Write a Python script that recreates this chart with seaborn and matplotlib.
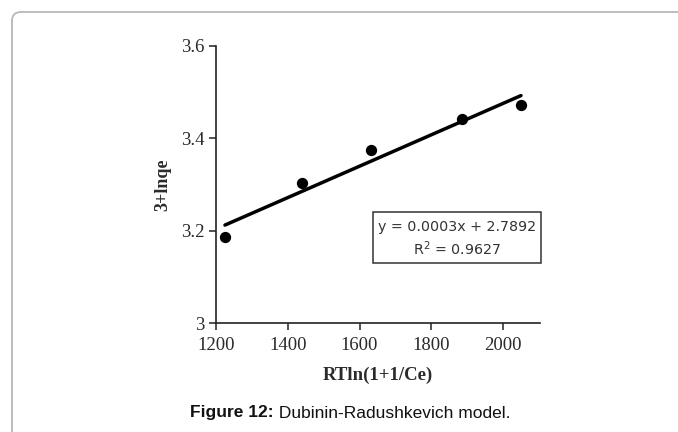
import numpy as np
import pandas as pd
import matplotlib
matplotlib.use("Agg")
import matplotlib.pyplot as plt
from matplotlib.patches import FancyBboxPatch, Rectangle
import seaborn as sns

# ---- data ----
x_vals = [1225, 1440, 1633, 1887, 2050]
y_vals = [3.186, 3.303, 3.375, 3.441, 3.473]
x_ticks = [1200, 1400, 1600, 1800, 2000]
y_ticks = [3.0, 3.2, 3.4, 3.6]
y_tick_labels = ["3", "3.2", "3.4", "3.6"]
eq_text = "y = 0.0003x + 2.7892"
r2_text = "R$^2$ = 0.9627"
x_label = "RTln(1+1/Ce)"
y_label = "3+lnqe"
caption_bold = "Figure 12:"
caption_rest = " Dubinin-Radushkevich model."

df = pd.DataFrame({"x": x_vals, "y": y_vals})

sns.set_style("ticks")
plt.rcParams["font.family"] = ["DejaVu Sans"]

W, H = 678, 432
fig = plt.figure(figsize=(W / 100, H / 100), dpi=100)
fig.patch.set_facecolor("white")

# outer frame (rounded, open at right/bottom)
frame = FancyBboxPatch((12, -30), 720, 450, boxstyle="round,pad=0,rounding_size=9",
                       transform=None, fill=False, edgecolor="#b8b8b8", linewidth=1.3,
                       clip_on=False)
fig.patches.append(frame)

ax = fig.add_axes([216 / W, 1 - 323 / H, 324 / W, (323 - 46) / H])
ax.set_facecolor("white")

sns.regplot(data=df, x="x", y="y", ax=ax, ci=None, truncate=True,
            scatter_kws=dict(s=66, color="black", edgecolor="black", linewidths=0,
                             alpha=1, zorder=3),
            line_kws=dict(color="black", linewidth=2.5, zorder=2))

ax.set_xlim(1200, 2103)
ax.set_ylim(3.0, 3.6)
ax.set_xticks(x_ticks)
ax.set_yticks(y_ticks)
ax.set_yticklabels(y_tick_labels)

tick_color = "#2a2a2a"
for lab in ax.get_xticklabels() + ax.get_yticklabels():
    lab.set_fontfamily("Liberation Serif")
    lab.set_fontsize(13.5)
    lab.set_color(tick_color)
ax.tick_params(axis="both", direction="out", length=5, width=1.1, color="#222222")
ax.tick_params(axis="x", pad=5)
ax.tick_params(axis="y", pad=3)

for side in ["top", "right"]:
    ax.spines[side].set_visible(False)
for side in ["left", "bottom"]:
    ax.spines[side].set_color("#222222")
    ax.spines[side].set_linewidth(1.2)

ax.set_xlabel(x_label, fontfamily="Liberation Serif", fontweight="bold", fontsize=13.5, color=tick_color)
ax.set_ylabel(y_label, fontfamily="Liberation Serif", fontweight="bold", fontsize=13, color=tick_color)
ax.xaxis.set_label_coords((378 - 216) / 324, (323 - 367) / 277)
ax.yaxis.set_label_coords((171 - 216) / 324, 0.5)

# equation box
bx0, bx1 = (373 - 216) / 324, (540.5 - 216) / 324
by0, by1 = (323 - 263) / 277, (323 - 212) / 277
ax.add_patch(Rectangle((bx0, by0), bx1 - bx0, by1 - by0, transform=ax.transAxes,
                       fill=True, facecolor="white", edgecolor="#333333", linewidth=1.1,
                       clip_on=False, zorder=4))
cx = (bx0 + bx1) / 2
ax.text(cx, (323 - 226.7) / 277, eq_text, transform=ax.transAxes, ha="center", va="center",
        fontsize=10.3, color="#333333", fontfamily="DejaVu Sans", zorder=5)
ax.text(cx, (323 - 248.5) / 277, r2_text, transform=ax.transAxes, ha="center", va="center",
        fontsize=10.3, color="#333333", fontfamily="DejaVu Sans", zorder=5)

# caption (bold + regular)
cap_y = 1 - 413 / H
fig.canvas.draw()
renderer = fig.canvas.get_renderer()
t1 = fig.text(0, cap_y, caption_bold, fontfamily="Liberation Sans", fontweight="bold",
              fontsize=12.5, color="#111111", va="center", ha="left")
t2 = fig.text(0, cap_y, caption_rest, fontfamily="Liberation Sans",
              fontsize=12.5, color="#111111", va="center", ha="left")
w1 = t1.get_window_extent(renderer).width
w2 = t2.get_window_extent(renderer).width
start = 350 - (w1 + w2) / 2
t1.set_x(start / W)
t2.set_x((start + w1) / W)

fig.savefig("out.png", dpi=100)
